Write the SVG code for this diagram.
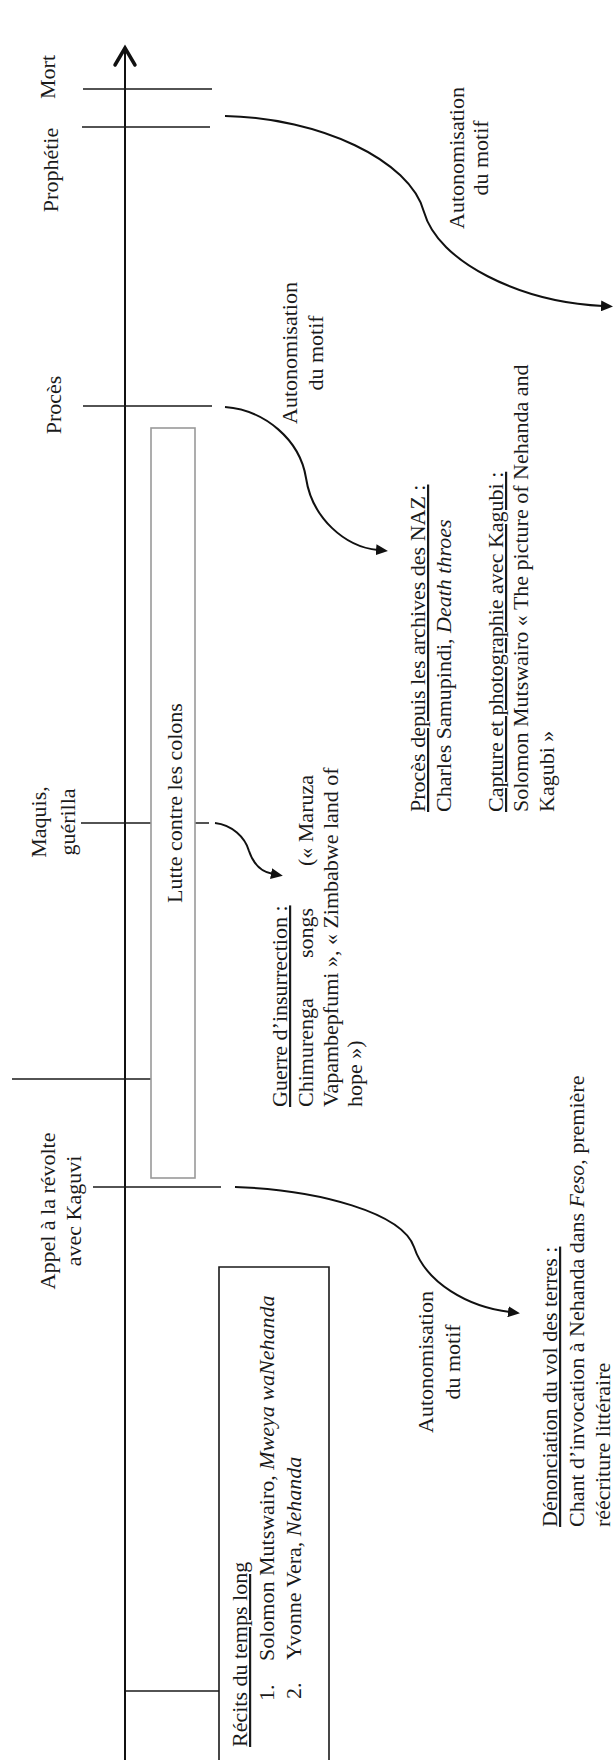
<svg xmlns="http://www.w3.org/2000/svg" width="616" height="1760" viewBox="0 0 616 1760">
<style>
.t{font-family:"Liberation Serif","Times New Roman",serif;font-size:22px;fill:#1a1a1a}
.m{text-anchor:middle}
.e{text-anchor:end}
.u{text-decoration:underline}
.i{font-style:italic}
.tick{stroke:#1a1a1a;stroke-width:1.6;fill:none}
.cv{stroke:#111;stroke-width:2;fill:none;marker-end:url(#ah)}
</style>
<defs>
<marker id="ah" markerUnits="userSpaceOnUse" markerWidth="13" markerHeight="11" refX="2" refY="5.5" orient="auto" viewBox="0 0 13 11">
<path d="M0,0 L12,5.5 L0,11 z" fill="#111"/>
</marker>
</defs>
<rect width="616" height="1760" fill="#fff"/>

<g id="axis">
<line x1="125" y1="50" x2="125" y2="1760" stroke="#111" stroke-width="2"/>
<polyline points="115,65 125,48 135,65" fill="none" stroke="#111" stroke-width="3.5" stroke-linecap="round" stroke-linejoin="miter"/>
</g>

<g id="ticks">
<line class="tick" x1="83" y1="89" x2="212" y2="89"/>
<line class="tick" x1="82" y1="127" x2="210" y2="127"/>
<line class="tick" x1="83" y1="406" x2="212" y2="406"/>
<line class="tick" x1="81" y1="823" x2="209" y2="823"/>
<line class="tick" x1="12" y1="1079" x2="170" y2="1079"/>
<line class="tick" x1="93" y1="1187" x2="221" y2="1187"/>
<line class="tick" x1="126" y1="1691" x2="219" y2="1691"/>
</g>

<g id="lutte">
<rect x="151" y="428" width="44" height="750" fill="#fff" stroke="#999" stroke-width="1.6"/>
<text class="t m" transform="translate(182,803) rotate(-90)">Lutte contre les colons</text>
</g>

<g id="recits">
<path d="M219,1770 L219,1267 L329,1267 L329,1770" fill="none" stroke="#1a1a1a" stroke-width="1.6"/>
<text class="t u" transform="translate(247,1747) rotate(-90)">Récits du temps long</text>
<text class="t" transform="translate(274,1701) rotate(-90)">1.</text>
<text class="t" transform="translate(274,1661) rotate(-90)">Solomon Mutswairo, <tspan class="i">Mweya waNehanda</tspan></text>
<text class="t" transform="translate(301,1699) rotate(-90)">2.</text>
<text class="t" transform="translate(301,1660) rotate(-90)">Yvonne Vera, <tspan class="i">Nehanda</tspan></text>
</g>

<g id="labels">
<text class="t m" transform="translate(55,77) rotate(-90)">Mort</text>
<text class="t m" transform="translate(58,170) rotate(-90)">Prophétie</text>
<text class="t m" transform="translate(61,405) rotate(-90)">Procès</text>
<text class="t m" transform="translate(46,822) rotate(-90)">Maquis,</text>
<text class="t m" transform="translate(75,822) rotate(-90)">guérilla</text>
<text class="t m" transform="translate(55,1211) rotate(-90)">Appel à la révolte</text>
<text class="t m" transform="translate(81,1211) rotate(-90)">avec Kaguvi</text>
</g>

<g id="connectors">
<path class="cv" d="M225,116 C320,118 410,160 424,212 C438,262 520,302 603,306"/>
<path class="cv" d="M225,407 C265,410 300,440 306,478 C312,518 345,547 378,550"/>
<path class="cv" d="M215,823 C232,825 245,837 249,851 C254,866 262,872 273,874"/>
<path class="cv" d="M235,1187 C320,1190 402,1213 414,1247 C426,1283 468,1307 510,1312"/>
</g>

<g id="auto-prophetie">
<text class="t m" transform="translate(464,158) rotate(-90)">Autonomisation</text>
<text class="t m" transform="translate(488,158) rotate(-90)">du motif</text>
</g>
<g id="auto-proces">
<text class="t m" transform="translate(297,353) rotate(-90)">Autonomisation</text>
<text class="t m" transform="translate(323,353) rotate(-90)">du motif</text>
</g>
<g id="auto-appel">
<text class="t m" transform="translate(433,1362) rotate(-90)">Autonomisation</text>
<text class="t m" transform="translate(460,1362) rotate(-90)">du motif</text>
</g>

<g id="proces-texts">
<text class="t u" transform="translate(425,812) rotate(-90)">Procès depuis les archives des NAZ :</text>
<text class="t" transform="translate(451,812) rotate(-90)">Charles Samupindi, <tspan class="i">Death throes</tspan></text>
<text class="t u" transform="translate(503,812) rotate(-90)">Capture et photographie avec Kagubi :</text>
<text class="t" transform="translate(528,812) rotate(-90)">Solomon Mutswairo « The picture of Nehanda and</text>
<text class="t" transform="translate(554,812) rotate(-90)">Kagubi »</text>
</g>

<g id="guerre">
<text class="t u" transform="translate(287,1107) rotate(-90)">Guerre d’insurrection :</text>
<text class="t" transform="translate(313,1107) rotate(-90)">Chimurenga</text>
<text class="t" transform="translate(313,958) rotate(-90)">songs</text>
<text class="t e" transform="translate(313,775) rotate(-90)">(« Maruza</text>
<text class="t" transform="translate(338,1107) rotate(-90)">Vapambepfumi », « Zimbabwe land of</text>
<text class="t" transform="translate(362,1107) rotate(-90)">hope »)</text>
</g>

<g id="denonciation">
<text class="t u" transform="translate(557,1527) rotate(-90)">Dénonciation du vol des terres :</text>
<text class="t" transform="translate(584,1527) rotate(-90)">Chant d’invocation à Nehanda dans <tspan class="i">Feso</tspan>, première</text>
<text class="t" transform="translate(610,1527) rotate(-90)">réécriture littéraire</text>
</g>
</svg>
